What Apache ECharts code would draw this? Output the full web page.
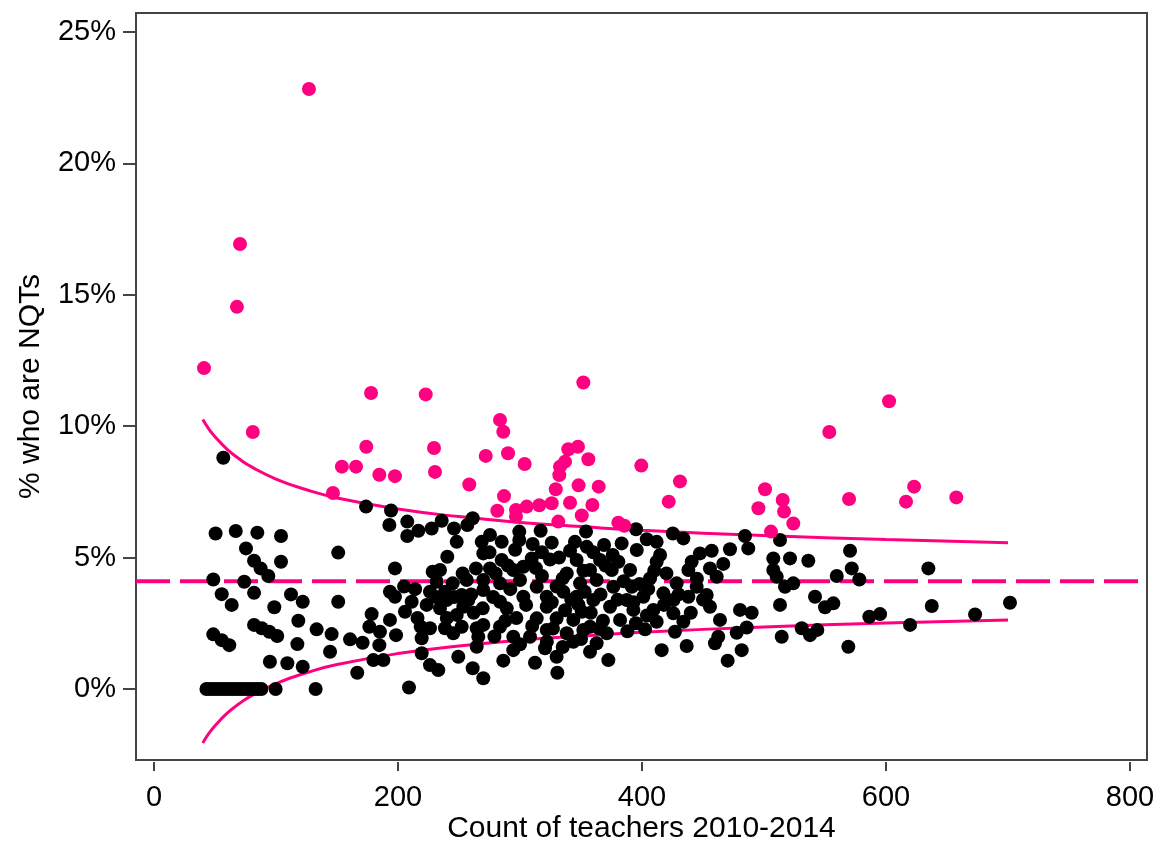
<!DOCTYPE html>
<html>
<head>
<meta charset="utf-8">
<script src="https://cdn.jsdelivr.net/npm/echarts@6/dist/echarts.min.js"></script>
<style>
html,body{margin:0;padding:0;background:#fff;}
#chart{width:1161px;height:841px;}
</style>
</head>
<body>
<div id="chart"></div>
<script>
// ---- data (teachers count, % NQTs) ----
const xTicks = [0, 200, 400, 600, 800];
const yTicks = [0, 5, 10, 15, 20, 25];
const meanPct = 4.1;

const blackPoints = [
 [56.8,8.8],
 [50.5,5.92],[67,6.01],[84.7,5.95],[104.1,5.82],[75.4,5.35],[82,4.88],[87.4,4.59],[93.7,4.3],[104.1,4.84],
 [48.6,4.17],[74,4.08],[55.5,3.61],[63.7,3.2],[82,3.66],[112.3,3.6],[121.9,3.32],[98.6,3.11],[118.3,2.6],
 [82,2.44],[88.3,2.31],[94.5,2.18],[101,2.02],[48.6,2.08],[55.5,1.86],[61.7,1.67],[117.5,1.71],[133.3,2.27],
 [145.6,2.09],[144.3,1.42],[95,1.04],[109.3,0.98],[121.9,0.85],[151,5.19],[151,3.32],
 [43,0],[46,0],[49,0],[52,0],[55,0],[58,0],[61,0],[64,0],[67,0],[70,0],[73,0],[76,0],[79,0],[82,0],[85,0],[88,0],[99.7,0],[132.5,0],
 [173.8,6.94],[194.3,6.79],[192.9,6.24],[207.6,6.37],[207.6,5.82],[216.7,6.02],[227.6,6.11],[235.8,6.4],[245.9,6.11],
 [261.2,6.5],[256.8,6.24],[248.1,5.6],[268.6,5.6],[240.4,5.03],[269.9,5.16],[197.5,4.59],[228.4,4.46],[253,4.4],
 [263.9,4.59],[231.7,4.08],[244.8,4.02],[256.3,4.15],[269.9,4.15],[193.4,3.7],[197.5,3.51],[226.2,3.7],[238.5,3.7],
 [252.2,3.58],[211.2,3.32],[223.5,3.2],[234.4,3.07],[253.5,3.13],[269.4,3.07],[205.7,2.94],[248.1,2.82],[178.4,2.85],
 [193.4,2.63],[218.6,2.37],[226.2,2.31],[238.5,2.31],[252.2,2.37],[264.5,2.31],[176.5,2.37],[185.2,2.18],[198.4,2.05],
 [160.7,1.89],[171,1.76],[184.7,1.67],[219.4,1.93],[219.4,1.36],[179.8,1.1],[188,1.1],[226.2,0.91],[233,0.72],
 [249.4,1.23],[261.2,0.79],[269.9,0.41],[166.6,0.62],[209,0.06],[264.5,1.61],[234.4,4.53],[239.9,3.39],[257.6,3.39],
 [245.3,2.12],[265.8,1.99],
 [299.4,5.99],[316.9,6.02],[354.1,5.99],[275.4,5.86],[299.4,5.67],[310.4,5.52],[326,5.57],[354.7,5.41],[368.9,5.48],
 [383.3,5.54],[341,5.26],[285,4.91],[309.6,4.97],[324.6,4.93],[346.4,4.91],[365.6,4.91],[380.6,4.84],[275.4,4.59],
 [294.5,4.53],[302.7,4.65],[338.3,4.4],[335,4.21],[357.4,4.53],[375.2,4.53],[390.2,4.53],[283.6,4.02],[300,4.15],
 [313.7,3.89],[349.2,4.02],[362.8,4.15],[376.5,3.89],[391.6,3.89],[269.9,3.77],[321.9,3.51],[335.5,3.7],[346.4,3.51],
 [360.1,3.39],[387.5,3.39],[283.6,3.32],[302.7,3.51],[289.1,3.07],[321.9,3.13],[350.6,2.94],[373.8,3.13],[392.9,3.01],
 [313.7,2.69],[330,2.69],[343.7,2.63],[357.4,2.37],[382,2.63],[269.9,2.44],[283.6,2.37],[321.9,2.25],[338.3,2.12],
 [371.1,2.12],[294.5,1.99],[308.2,1.99],[320.5,1.55],[343.7,1.8],[362.8,1.74],[294.5,1.48],[330,1.23],[357.4,1.42],
 [372.4,1.1],[286.3,1.08],[312.3,1.0],[330.6,0.62],[351.9,2.25],
 [395.1,6.08],[403.9,5.7],[412,5.6],[425.2,5.92],[433.9,5.73],[484.4,5.82],[487.1,5.35],[513.1,5.67],[472.1,5.32],
 [457.1,5.26],[447.5,5.16],[414.8,5.1],[412,4.84],[395.7,5.29],[440.7,4.84],[466.6,4.76],[455.7,4.59],[438,4.53],
 [507.6,4.97],[507.6,4.53],[461.2,4.27],[510.4,4.27],[406.6,4.21],[428.4,4.02],[444.8,3.89],[417.5,3.64],[453,3.58],
 [517.2,3.89],[401.1,3.51],[425.7,3.39],[438,3.51],[455.7,3.13],[513.1,3.2],[480.3,3.01],[489.9,2.9],[409.3,3.01],
 [425.7,2.88],[463.9,2.63],[412,2.56],[433.9,2.56],[402.5,2.27],[427,2.18],[485.8,2.34],[477.6,2.14],[462.5,1.99],
 [459.8,1.74],[514.5,1.99],[416.1,1.48],[436.6,1.64],[481.7,1.48],[470.2,1.08],
 [521.3,4.97],[536.3,4.88],[570.5,5.26],[571.9,4.59],[559.6,4.3],[578.1,4.17],[524,4.02],[541.8,3.51],[556.8,3.26],
 [550,3.11],[595.1,2.85],[586.3,2.75],[634.7,4.59],[637.5,3.16],[619.7,2.44],[530.9,2.31],[543.7,2.25],[537.7,2.05],
 [569.1,1.61],[673,2.84],[701.6,3.28],
 // points hidden inside the dense cluster (estimated)
 [275,5.2],[280,4.4],[290,4.7],[278,3.5],[292,3.8],[297,2.7],[288,2.6],[279,2.0],[305,3.2],[310,2.4],
 [318,4.3],[326,3.3],[330,3.9],[337,3.0],[342,3.4],[327,2.3],[335,1.6],[348,3.2],[353,3.7],[358,2.9],
 [366,3.6],[368,2.6],[380,3.4],[385,4.1],[393,3.3],[398,4.0],[370,4.7],[352,4.5],[345,5.6],[360,5.2],
 [318,5.2],[296,5.3],[405,3.8],[410,4.5],[420,4.4],[418,3.2],[430,3.6],[445,4.2],[450,3.4],[440,2.9],
 [395,2.5],[388,2.2],[404,2.8],[260,3.6],[262,2.9],[246,3.5],[240,2.7],[231,3.5],[214,3.8],[216,2.7],
 [205,3.9],[285,5.6],[313,4.6],[332,5.0],[376,5.1],[350,1.9],[365,2.3],[300,1.7],[322,1.8]
];

const pinkPoints = [
 [41,12.21],[70.5,16.93],[68,14.54],[81,9.78],[127,22.83],[146.7,7.46],[154,8.46],[165.6,8.46],[174,9.22],[177.9,11.26],
 [184.7,8.15],[197.5,8.1],[222.7,11.21],[229.5,9.17],[230.3,8.26],[258.4,7.78],[283.6,10.24],[286.3,9.79],[271.9,8.87],
 [290.2,8.97],[303.8,8.56],[286.9,7.34],[281.4,6.78],[296.7,6.81],[296.7,6.56],[305.5,6.94],[315.8,6.99],[326,7.07],
 [329.3,7.6],[332.2,8.14],[332.8,8.46],[336.9,8.65],[339.6,9.12],[347.5,9.22],[356,8.74],[351.9,11.66],[348,7.75],
 [341,7.09],[359.3,7.0],[350.6,6.6],[331.4,6.37],[364.5,7.7],[380.6,6.33],[385.5,6.21],[399.4,8.5],[431.1,7.9],
 [421.9,7.13],[500.8,7.6],[495.4,6.88],[515.3,7.19],[516.4,6.75],[524,6.3],[505.7,5.99],[553.5,9.78],[569.7,7.23],
 [602.5,10.95],[623,7.7],[616.4,7.13],[657.6,7.29]
];

// control limits
const limitN = [40, 45, 50, 60, 70, 80, 100, 125, 150, 200, 250, 300, 350, 400, 500, 600, 700];
const upperPct = [10.25, 9.89, 9.60, 9.12, 8.75, 8.45, 7.99, 7.58, 7.27, 6.85, 6.56, 6.34, 6.18, 6.04, 5.84, 5.69, 5.57];
const lowerPct = [-2.05, -1.69, -1.40, -0.92, -0.55, -0.25, 0.21, 0.62, 0.93, 1.35, 1.64, 1.86, 2.02, 2.16, 2.36, 2.51, 2.63];

const PINK = '#ff0080';
const FONT = '"Liberation Sans", Arial, sans-serif';

const chart = echarts.init(document.getElementById('chart'), null, {renderer: 'canvas'});
chart.setOption({
  animation: false,
  backgroundColor: '#fff',
  grid: [
    {left: 136, right: 14, top: 13, bottom: 81, show: true, borderColor: '#444', borderWidth: 2,
     backgroundColor: 'transparent', containLabel: false, outerBoundsMode: 'none'},
    {left: 154, right: 31, top: 32, bottom: 152, show: false, containLabel: false, outerBoundsMode: 'none'}
  ],
  xAxis: [
    {type: 'value', gridIndex: 0, min: -14.75, max: 813.9,
     axisLine: {show: false}, axisTick: {show: false}, axisLabel: {show: false}, splitLine: {show: false},
     name: 'Count of teachers 2010-2014', nameLocation: 'middle', nameGap: 54,
     nameTextStyle: {fontSize: 30, color: '#000', fontFamily: FONT}},
    {type: 'value', gridIndex: 1, min: 0, max: 800, interval: 200, offset: 73,
     axisLine: {show: true, onZero: false, lineStyle: {color: 'rgba(0,0,0,0)'}}, splitLine: {show: false},
     axisTick: {show: true, length: 9, lineStyle: {color: '#444', width: 2}},
     axisLabel: {fontSize: 29, color: '#000', fontFamily: FONT, margin: 21,
       formatter: v => xTicks.includes(v) ? String(v) : ''}}
  ],
  yAxis: [
    {type: 'value', gridIndex: 0, min: -2.70, max: 25.72,
     axisLine: {show: false}, axisTick: {show: false}, axisLabel: {show: false}, splitLine: {show: false},
     name: '% who are NQTs', nameLocation: 'middle', nameGap: 90, nameRotate: 90,
     nameTextStyle: {fontSize: 30, color: '#000', fontFamily: FONT}},
    {type: 'value', gridIndex: 1, min: 0, max: 25, interval: 5, offset: 19,
     axisLine: {show: true, onZero: false, lineStyle: {color: 'rgba(0,0,0,0)'}}, splitLine: {show: false},
     axisTick: {show: true, length: 12, lineStyle: {color: '#444', width: 2}},
     axisLabel: {fontSize: 29, color: '#000', fontFamily: FONT, margin: 19,
       formatter: v => yTicks.includes(v) ? v + '%' : ''}}
  ],
  series: [
    {type: 'line', xAxisIndex: 0, yAxisIndex: 0, z: 1, symbol: 'none', silent: true,
     data: [[-14.75, meanPct], [813.9, meanPct]],
     lineStyle: {color: PINK, width: 4, type: [34, 10]}},
    {type: 'line', xAxisIndex: 0, yAxisIndex: 0, z: 1, symbol: 'none', smooth: true, silent: true,
     data: limitN.map((n, i) => [n, upperPct[i]]),
     lineStyle: {color: PINK, width: 3}},
    {type: 'line', xAxisIndex: 0, yAxisIndex: 0, z: 1, symbol: 'none', smooth: true, silent: true,
     data: limitN.map((n, i) => [n, lowerPct[i]]),
     lineStyle: {color: PINK, width: 3}},
    {type: 'scatter', xAxisIndex: 0, yAxisIndex: 0, z: 3, symbolSize: 14,
     itemStyle: {color: '#000', opacity: 1}, data: blackPoints},
    {type: 'scatter', xAxisIndex: 0, yAxisIndex: 0, z: 3, symbolSize: 14,
     itemStyle: {color: PINK, opacity: 1}, data: pinkPoints}
  ]
});
</script>
</body>
</html>
